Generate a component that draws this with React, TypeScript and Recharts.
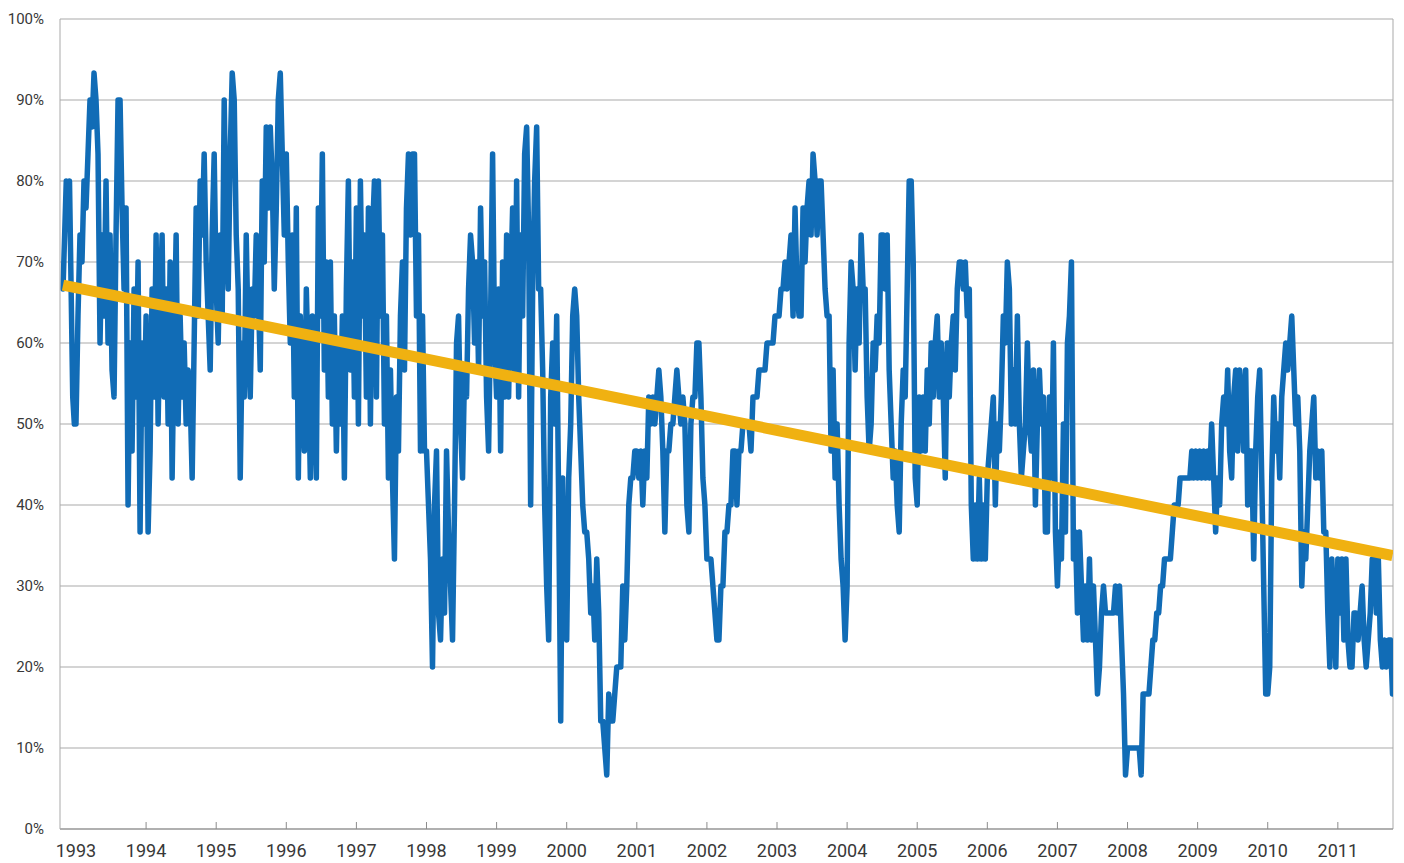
import React from "react";
import { LineChart, Line, XAxis, YAxis, CartesianGrid, ReferenceLine } from "recharts";

// Readings are counts out of the 30-stock basket (one step = 3.33%).
const BASKET = 30;
const FIRST_DATE = 1992.815;
const LAST_DATE = 2011.78;

const late1992 = [20, 22, 24, 23, 24, 20, 16, 15];
const y1993 = [15, 19, 22, 21, 24, 23, 25, 27, 26, 28, 27, 25, 18, 22, 19, 24, 18, 22, 17, 16, 22, 27, 27, 23, 20, 23, 12, 18, 14, 20, 16, 21, 11, 18, 15];
const y1994 = [19, 11, 14, 20, 16, 22, 15, 19, 22, 16, 20, 15, 21, 13, 18, 22, 15, 19, 16, 18, 15, 17, 16, 13, 18, 23, 19, 24, 22, 25, 21, 19, 17, 22, 25];
const y1995 = [20, 18, 22, 19, 27, 22, 20, 25, 28, 27, 22, 20, 13, 18, 16, 22, 18, 16, 20, 19, 22, 20, 17, 24, 21, 26, 23, 26, 24, 20, 23, 27, 28, 25, 22];
const y1996 = [25, 21, 18, 22, 16, 23, 13, 19, 16, 14, 20, 17, 13, 19, 16, 13, 23, 19, 25, 17, 21, 16, 21, 15, 19, 14, 18, 15, 19, 13, 20, 24, 17, 21, 16];
const y1997 = [23, 15, 24, 19, 22, 16, 23, 15, 22, 24, 16, 24, 19, 22, 15, 19, 13, 17, 13, 10, 16, 14, 19, 21, 17, 23, 25, 22, 25, 25, 19, 22, 14, 19, 14];
const y1998 = [14, 12, 10, 6, 12, 14, 8, 7, 10, 8, 14, 11, 9, 7, 12, 18, 19, 15, 13, 17, 16, 20, 22, 21, 18, 21, 17, 23, 19, 21, 16, 14, 19, 25, 18];
const y1999 = [16, 20, 14, 21, 16, 22, 16, 20, 23, 17, 24, 16, 22, 19, 25, 26, 22, 12, 20, 24, 26, 20, 20, 17, 12, 9, 7, 16, 18, 15, 19, 12, 4, 13, 8];
const y2000 = [7, 13, 15, 19, 20, 19, 16, 14, 12, 11, 11, 10, 8, 9, 7, 10, 8, 4, 4, 3, 2, 5, 4, 4, 5, 6, 6, 6, 9, 7, 9, 12, 13, 13, 14];
const y2001 = [14, 13, 14, 12, 14, 13, 16, 15, 16, 15, 16, 17, 16, 14, 11, 14, 14, 15, 15, 16, 17, 16, 15, 16, 15, 12, 11, 15, 16, 16, 18, 18, 16, 13, 12];
const y2002 = [10, 10, 10, 9, 8, 7, 7, 9, 9, 11, 11, 12, 12, 14, 14, 12, 14, 14, 15, 15, 15, 15, 14, 16, 16, 16, 17, 17, 17, 17, 18, 18, 18, 18, 19];
const y2003 = [19, 19, 20, 20, 21, 20, 21, 22, 19, 23, 20, 19, 19, 23, 21, 23, 24, 22, 25, 24, 22, 24, 24, 22, 20, 19, 19, 14, 17, 13, 15, 12, 10, 9, 7];
const y2004 = [9, 18, 21, 20, 17, 20, 18, 22, 20, 20, 16, 14, 15, 18, 17, 19, 18, 22, 22, 20, 22, 17, 15, 13, 14, 12, 11, 15, 17, 16, 20, 24, 24, 21, 13];
const y2005 = [12, 16, 14, 16, 14, 17, 15, 18, 16, 18, 19, 16, 18, 16, 13, 18, 16, 18, 19, 17, 20, 21, 21, 20, 21, 19, 20, 12, 10, 12, 10, 13, 10, 12, 10];
const y2006 = [13, 14, 15, 16, 12, 15, 14, 16, 19, 18, 21, 20, 15, 17, 15, 19, 15, 13, 14, 15, 18, 15, 14, 17, 12, 15, 17, 15, 16, 11, 11, 16, 13, 18, 11];
const y2007 = [9, 11, 10, 15, 11, 18, 19, 21, 10, 11, 8, 11, 9, 7, 9, 7, 10, 7, 9, 7, 5, 6, 8, 9, 8, 8, 8, 8, 8, 9, 8, 9, 7, 5, 2];
const y2008 = [3, 3, 3, 3, 3, 3, 3, 2, 5, 5, 5, 5, 6, 7, 7, 8, 8, 9, 9, 10, 10, 10, 10, 11, 12, 12, 12, 13, 13, 13, 13, 13, 13, 14, 13, 14];
const y2009 = [13, 14, 13, 14, 13, 14, 13, 15, 13, 11, 13, 12, 15, 16, 15, 17, 14, 13, 16, 17, 14, 17, 16, 14, 17, 12, 14, 14, 10, 14, 16, 17, 13, 9, 5];
const y2010 = [5, 6, 13, 16, 14, 15, 13, 16, 17, 18, 17, 18, 19, 17, 15, 16, 14, 9, 11, 10, 12, 14, 15, 16, 13, 14, 13, 14, 11, 11, 8, 6, 10, 8, 6];
const y2011 = [10, 8, 10, 7, 10, 7, 6, 6, 8, 8, 7, 8, 9, 7, 6, 7, 8, 10, 10, 8, 10, 7, 6, 7, 6, 7, 7, 5];

const fullYears: [number, number[]][] = [
  [1993, y1993], [1994, y1994], [1995, y1995], [1996, y1996], [1997, y1997],
  [1998, y1998], [1999, y1999], [2000, y2000], [2001, y2001], [2002, y2002],
  [2003, y2003], [2004, y2004], [2005, y2005], [2006, y2006], [2007, y2007],
  [2008, y2008], [2009, y2009], [2010, y2010],
];

const yearTicks = [1993, 1994, 1995, 1996, 1997, 1998, 1999, 2000, 2001, 2002, 2003, 2004, 2005, 2006, 2007, 2008, 2009, 2010, 2011];
const percentTicks = [0, 10, 20, 30, 40, 50, 60, 70, 80, 90, 100];

// trend line ends, in %
const trendStart = 67.15;
const trendEnd = 33.75;

const X_MIN = 1992.772;
const X_MAX = 2011.787;

const toPct = (c: number) => (c / BASKET) * 100;

const series: { t: number; v: number }[] = [];
late1992.forEach((c, i) => {
  series.push({ t: FIRST_DATE + (i * (1993 - FIRST_DATE)) / late1992.length, v: toPct(c) });
});
fullYears.forEach(([yr, arr]) => {
  arr.forEach((c, i) => series.push({ t: yr + i / arr.length, v: toPct(c) }));
});
y2011.forEach((c, i) => {
  series.push({ t: 2011 + (i * (LAST_DATE - 2011)) / (y2011.length - 1), v: toPct(c) });
});

const trend = [
  { t: FIRST_DATE, v: trendStart },
  { t: LAST_DATE, v: trendEnd },
];

const FONT = "Roboto, 'Open Sans', sans-serif";
const TEXT = "#383838";
const GRID = "#a9a9a9";

const YearTick = (props: any) => {
  const { x, y, payload, index } = props;
  return (
    <g>
      {index > 0 && <line x1={x} x2={x} y1={y} y2={y - 7} stroke="#8c8c8c" strokeWidth={1} />}
      <text x={x} y={y + 28} textAnchor="middle" fill={TEXT} fontSize={18} fontFamily={FONT}>
        {payload.value}
      </text>
    </g>
  );
};

const PctTick = (props: any) => {
  const { x, y, payload } = props;
  return (
    <text x={x} y={y} dy={5} textAnchor="end" fill={TEXT} fontSize={15} fontFamily={FONT}>
      {payload.value}%
    </text>
  );
};

export default function App() {
  return (
    <div style={{ position: "absolute", left: 0, top: 0, width: 1404, height: 863, background: "#fff" }}>
      <LineChart width={1404} height={863} data={series} margin={{ top: 19, right: 11, left: 0, bottom: 0 }}>
        <CartesianGrid vertical={false} stroke={GRID} strokeWidth={1} />
        <XAxis
          dataKey="t"
          type="number"
          domain={[X_MIN, X_MAX]}
          ticks={yearTicks}
          interval={0}
          height={34}
          tickSize={0}
          tickMargin={0}
          tickLine={false}
          axisLine={{ stroke: "#8c8c8c" }}
          tick={<YearTick />}
          allowDataOverflow
        />
        <YAxis
          type="number"
          domain={[0, 100]}
          ticks={percentTicks}
          interval={0}
          width={60}
          tickSize={0}
          tickMargin={16}
          tickLine={false}
          axisLine={{ stroke: GRID }}
          tick={<PctTick />}
        />
        <ReferenceLine x={X_MAX} stroke={GRID} strokeWidth={1} />
        <Line
          dataKey="v"
          type="linear"
          stroke="#116cb6"
          strokeWidth={5.5}
          strokeLinejoin="round"
          strokeLinecap="round"
          dot={false}
          activeDot={false}
          isAnimationActive={false}
        />
        <Line
          data={trend}
          dataKey="v"
          type="linear"
          stroke="#f0b111"
          strokeWidth={11}
          dot={false}
          activeDot={false}
          isAnimationActive={false}
        />
      </LineChart>
    </div>
  );
}
